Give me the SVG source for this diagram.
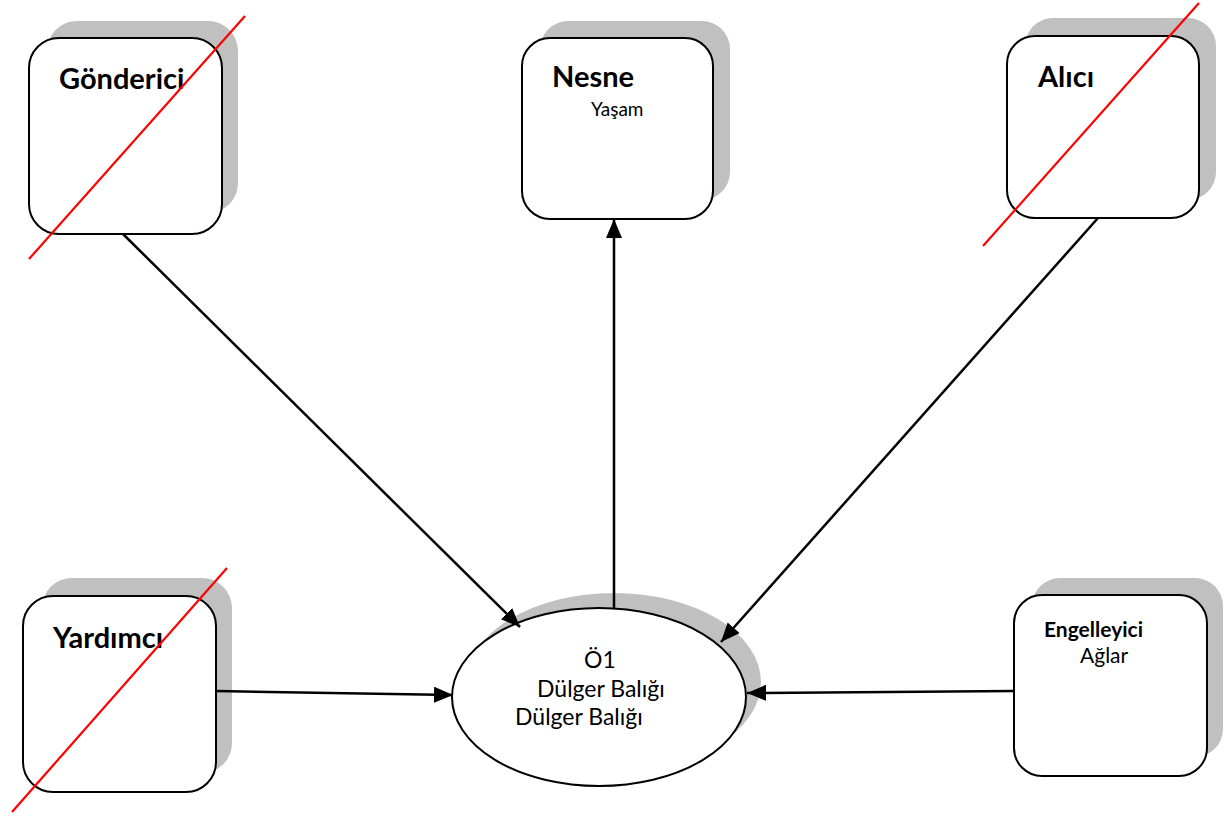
<svg xmlns="http://www.w3.org/2000/svg" width="1224" height="816" viewBox="0 0 1224 816">
<defs>
<style>
.shadow{fill:#c0c0c0;stroke:none}
.box{fill:#ffffff;stroke:#000000;stroke-width:2}
.head{font-family:Lato,"Liberation Sans",sans-serif;font-weight:bold;font-size:29px;fill:#000}
.sub{font-family:Lato,"Liberation Sans",sans-serif;font-size:19px;fill:#000}
.body{font-family:Lato,"Liberation Sans",sans-serif;font-size:23px;fill:#000}
.conn{fill:none;stroke:#000;stroke-width:2.5}
.cross{stroke:#ff0000;stroke-width:2.2}
</style>
<marker id="arrow" markerUnits="userSpaceOnUse" markerWidth="22" markerHeight="18" refX="19" refY="8" orient="auto">
<path d="M0,0 L19,8 L0,16 Z" fill="#000"/>
</marker>
</defs>
<rect width="1224" height="816" fill="#ffffff"/>

<g id="gonderici">
<rect class="shadow" x="47" y="21" width="191" height="192" rx="30"/>
<rect class="box" x="29" y="38" width="193" height="196" rx="30"/>
<text class="head" x="59" y="89">Gönderici</text>
<line class="cross" x1="29" y1="259" x2="245" y2="16"/>
</g>

<g id="nesne">
<rect class="shadow" x="540" y="21" width="190" height="179" rx="28"/>
<rect class="box" x="522" y="38" width="191" height="181" rx="28"/>
<text class="head" x="552" y="87">Nesne</text>
<text class="sub" x="591" y="116">Yaşam</text>
</g>

<g id="alici">
<rect class="shadow" x="1025" y="18" width="191" height="182" rx="28"/>
<rect class="box" x="1007" y="36" width="192" height="182" rx="28"/>
<text class="head" x="1038" y="87">Alıcı</text>
<line class="cross" x1="983" y1="246" x2="1199" y2="3"/>
</g>

<g id="yardimci">
<rect class="shadow" x="42" y="578" width="190" height="195" rx="30"/>
<rect class="box" x="23" y="596" width="193" height="196" rx="30"/>
<text class="head" x="53" y="648">Yardımcı</text>
<line class="cross" x1="12" y1="812" x2="227" y2="568"/>
</g>

<g id="engelleyici">
<rect class="shadow" x="1032" y="578" width="191" height="179" rx="28"/>
<rect class="box" x="1014" y="595" width="193" height="181" rx="28"/>
<text class="head" x="1044" y="637" style="font-size:21px">Engelleyici</text>
<text class="body" x="1080" y="663" style="font-size:21px">Ağlar</text>
</g>

<g id="o1">
<ellipse class="shadow" cx="614" cy="682" rx="147" ry="89"/>
<ellipse class="box" cx="599" cy="697" rx="147" ry="89"/>
<text class="body" x="584" y="668">Ö1</text>
<text class="body" x="537" y="697">Dülger Balığı</text>
<text class="body" x="515" y="725">Dülger Balığı</text>
</g>

<g id="connectors">
<path class="conn" d="M123,234 L520,627" marker-end="url(#arrow)"/>
<path class="conn" d="M614,608 L614,219" marker-end="url(#arrow)"/>
<path class="conn" d="M1098,218 L721,642" marker-end="url(#arrow)"/>
<path class="conn" d="M216,691 L453,695" marker-end="url(#arrow)"/>
<path class="conn" d="M1014,691 L747,693" marker-end="url(#arrow)"/>
</g>
</svg>
